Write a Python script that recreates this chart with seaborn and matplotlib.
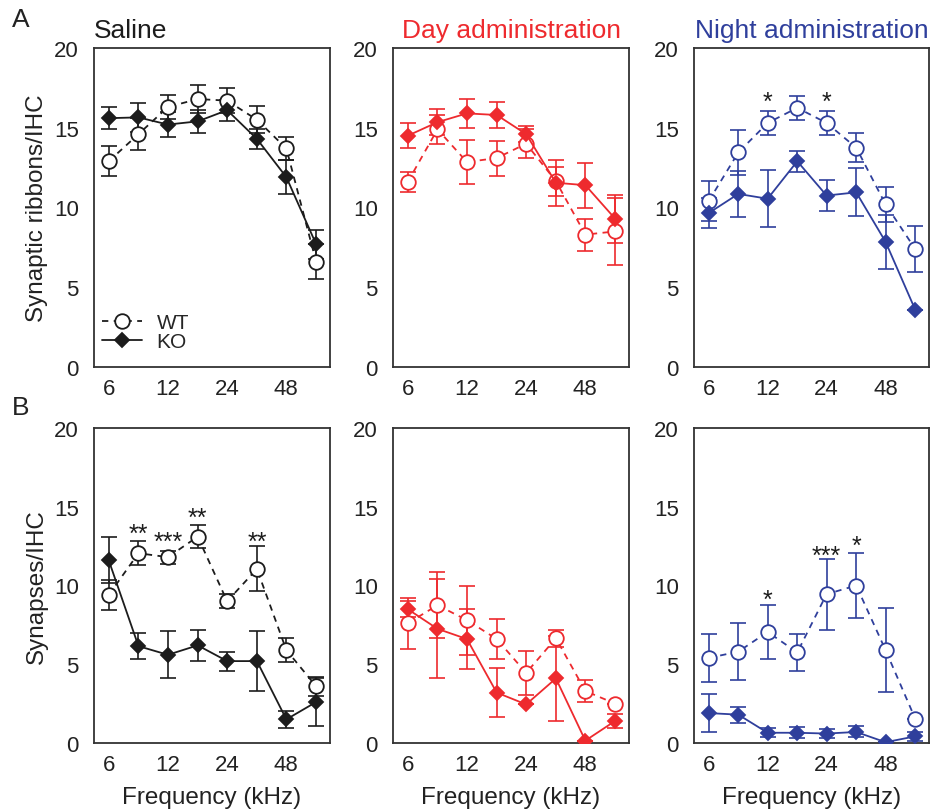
import numpy as np
import pandas as pd
import seaborn as sns
import matplotlib.pyplot as plt
from matplotlib.ticker import NullLocator

sns.set_style('white')
plt.rcParams['font.family'] = ['Liberation Sans', 'DejaVu Sans']

# frequencies (kHz), half-octave steps
freqs = [6, 8.5, 12, 17, 24, 34, 48, 68]
tick_freqs = [6, 12, 24, 48]
genotypes = ['WT', 'KO']
groups = ['Saline', 'Day administration', 'Night administration']
group_colors = ['#1c1c1c', '#ee2a2e', '#2f3f9c']

# A: synaptic ribbons / IHC  (mean, sem)
rib_saline_wt = [12.9, 14.6, 16.3, 16.8, 16.7, 15.5, 13.7, 6.6]
rib_saline_wt_err = [0.95, 1.0, 0.75, 0.87, 0.8, 0.85, 0.75, 1.1]
rib_saline_ko = [15.6, 15.65, 15.2, 15.4, 16.1, 14.3, 11.9, 7.7]
rib_saline_ko_err = [0.67, 0.9, 0.8, 0.7, 0.65, 0.65, 1.05, 0.9]
rib_day_wt = [11.6, 14.9, 12.85, 13.1, 14.0, 11.65, 8.3, 8.5]
rib_day_wt_err = [0.6, 0.9, 1.4, 1.1, 0.9, 0.9, 1.0, 2.1]
rib_day_ko = [14.5, 15.35, 15.9, 15.8, 14.6, 11.55, 11.4, 9.3]
rib_day_ko_err = [0.77, 0.8, 0.9, 0.8, 0.5, 1.45, 1.4, 1.5]
rib_night_wt = [10.4, 13.45, 15.3, 16.25, 15.3, 13.75, 10.2, 7.4]
rib_night_wt_err = [1.25, 1.4, 0.73, 0.75, 0.75, 0.92, 1.1, 1.45]
rib_night_ko = [9.65, 10.85, 10.55, 12.9, 10.75, 10.95, 7.85, 3.6]
rib_night_ko_err = [0.95, 1.45, 1.78, 0.65, 0.95, 1.5, 1.7, 0.0]

# B: synapses / IHC
syn_saline_wt = [9.4, 12.05, 11.8, 13.1, 9.0, 11.05, 5.9, 3.6]
syn_saline_wt_err = [0.95, 0.75, 0.42, 0.72, 0.45, 1.43, 0.78, 0.6]
syn_saline_ko = [11.6, 6.15, 5.6, 6.2, 5.2, 5.2, 1.5, 2.6]
syn_saline_ko_err = [1.45, 0.83, 1.5, 1.0, 0.6, 1.9, 0.55, 1.5]
syn_day_wt = [7.6, 8.75, 7.8, 6.6, 4.45, 6.65, 3.3, 2.5]
syn_day_wt_err = [1.6, 2.1, 2.2, 1.25, 1.4, 0.55, 0.7, 0.0]
syn_day_ko = [8.5, 7.25, 6.6, 3.2, 2.45, 4.1, 0.15, 1.4]
syn_day_ko_err = [0.5, 3.15, 1.9, 1.57, 0.0, 2.7, 0.0, 0.45]
syn_night_wt = [5.4, 5.8, 7.05, 5.75, 9.45, 10.0, 5.9, 1.55]
syn_night_wt_err = [1.5, 1.83, 1.7, 1.16, 2.26, 2.05, 2.64, 0.0]
syn_night_ko = [1.9, 1.8, 0.65, 0.65, 0.6, 0.7, 0.05, 0.42]
syn_night_ko_err = [1.2, 0.5, 0.3, 0.35, 0.3, 0.35, 0.0, 0.3]

# significance marks: (frequency index, label, y)
stars_rib_night = [(2, '*', 16.6), (4, '*', 16.6)]
stars_syn_saline = [(1, '**', 13.3), (2, '***', 12.8), (3, '**', 14.3), (5, '**', 12.8)]
stars_syn_night = [(2, '*', 9.1), (4, '***', 11.9), (5, '*', 12.5)]

panels = [
    [(rib_saline_wt, rib_saline_wt_err, rib_saline_ko, rib_saline_ko_err, []),
     (rib_day_wt, rib_day_wt_err, rib_day_ko, rib_day_ko_err, []),
     (rib_night_wt, rib_night_wt_err, rib_night_ko, rib_night_ko_err, stars_rib_night)],
    [(syn_saline_wt, syn_saline_wt_err, syn_saline_ko, syn_saline_ko_err, stars_syn_saline),
     (syn_day_wt, syn_day_wt_err, syn_day_ko, syn_day_ko_err, []),
     (syn_night_wt, syn_night_wt_err, syn_night_ko, syn_night_ko_err, stars_syn_night)],
]
row_ylabels = ['Synaptic ribbons/IHC', 'Synapses/IHC']

fig = plt.figure(figsize=(9.32, 8.12), dpi=100)
lefts = [94 / 932, 393 / 932, 694 / 932]
widths = [236 / 932, 236 / 932, 235 / 932]
bottoms = [1 - 368 / 812, 1 - 744 / 812]
heights = [319 / 812, 315 / 812]

for r in range(2):
    for c in range(3):
        ax = fig.add_axes([lefts[c], bottoms[r], widths[c], heights[r]])
        wt, wt_err, ko, ko_err, stars = panels[r][c]
        col = group_colors[c]
        df = pd.DataFrame({
            'freq': freqs * 2,
            'value': wt + ko,
            'err': wt_err + ko_err,
            'genotype': ['WT'] * len(freqs) + ['KO'] * len(freqs),
        })
        ax.set_xscale('log', base=2)
        for g, ls, mk, mfc in [('WT', (0, (3.5, 3)), 'o', 'white'), ('KO', '-', 'D', col)]:
            d = df[df['genotype'] == g]
            ax.errorbar(d['freq'], d['value'], yerr=d['err'], fmt='none',
                        ecolor=col, elinewidth=1.2, capsize=6, capthick=1.2, zorder=2)
            sns.lineplot(data=d, x='freq', y='value', ax=ax, color=col,
                         linestyle=ls, linewidth=1.3, marker=mk,
                         markersize=10.5 if g == 'WT' else 7.5,
                         markerfacecolor=mfc, markeredgecolor=col,
                         markeredgewidth=1.3, label=g, zorder=3)
        for i, s, y in stars:
            ax.text(freqs[i], y, s, ha='center', va='center', fontsize=18, color='#1c1c1c')

        ax.set_xlim(5.05, 80)
        ax.set_ylim(0, 20)
        ax.set_xticks(tick_freqs)
        ax.set_xticklabels([str(t) for t in tick_freqs])
        ax.xaxis.set_minor_locator(NullLocator())
        ax.set_yticks([0, 5, 10, 15, 20])
        ax.tick_params(direction='in', length=6, width=1.1, labelsize=16,
                       colors='#333333', labelcolor='#222222')
        ax.tick_params(axis='y', pad=11)
        ax.tick_params(axis='x', pad=8)
        for sp in ax.spines.values():
            sp.set_color('#333333')
            sp.set_linewidth(1.3)
        ax.set_xlabel('Frequency (kHz)' if r == 1 else '', fontsize=17.5,
                      color='#222222', labelpad=8)
        ax.set_ylabel(row_ylabels[r] if c == 0 else '', fontsize=17.5, color='#222222',
                      labelpad=4)
        if r == 0:
            if c == 0:
                ax.set_title(groups[c], loc='left', fontsize=19, color=col, pad=8)
            else:
                ax.set_title(groups[c], fontsize=19, color=col, pad=8)
        if r == 0 and c == 0:
            h, l = ax.get_legend_handles_labels()
            ax.legend(h, l, loc='lower left', frameon=False, fontsize=15,
                      handlelength=1.9, handletextpad=0.7, labelspacing=0.0,
                      borderaxespad=0, borderpad=0, bbox_to_anchor=(0.035, 0.05))
        else:
            leg = ax.get_legend()
            if leg is not None:
                leg.remove()

fig.text(12 / 932, 1 - 20 / 812, 'A', fontsize=19, va='center', color='#222222')
fig.text(12 / 932, 1 - 408 / 812, 'B', fontsize=19, va='center', color='#222222')

fig.savefig('out.png', dpi=100)
